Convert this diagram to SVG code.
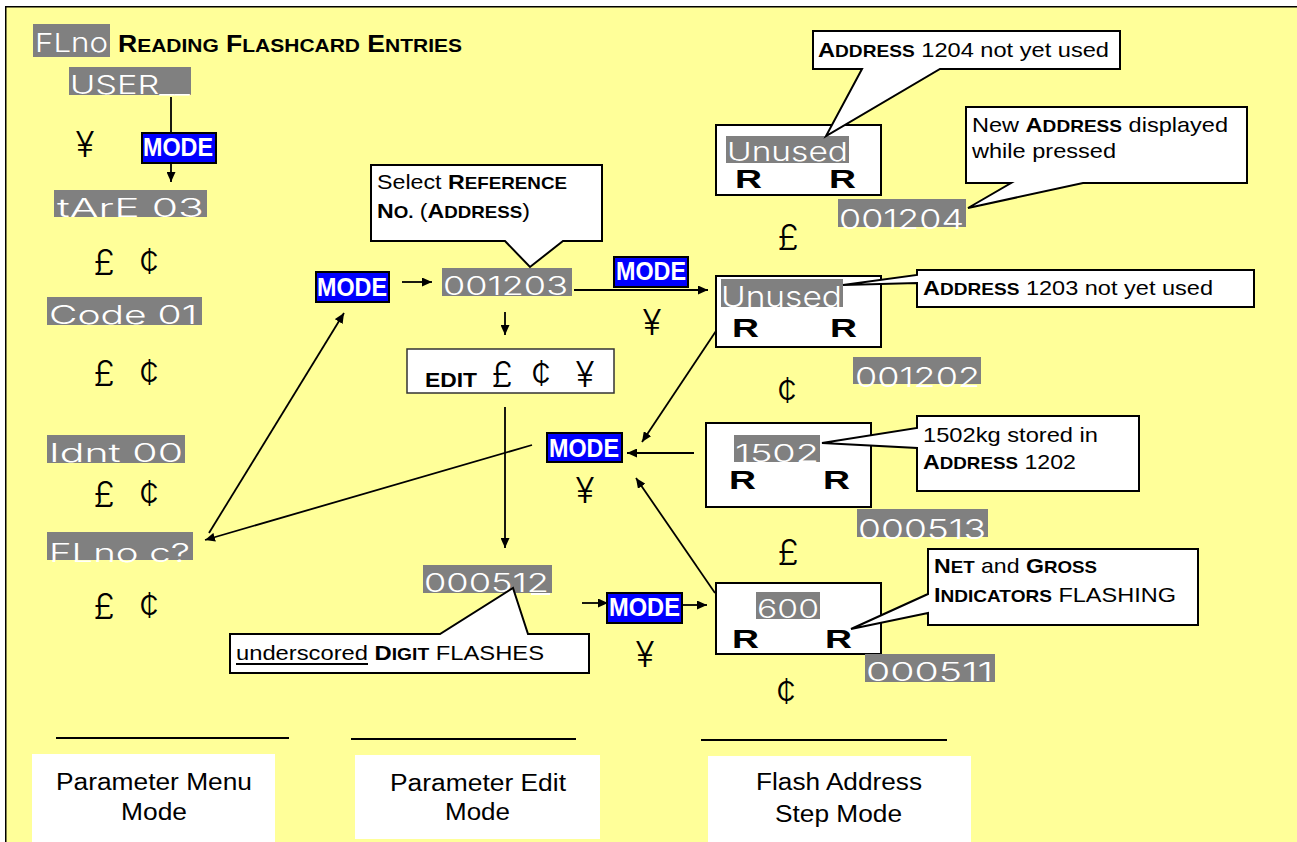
<svg xmlns="http://www.w3.org/2000/svg" width="1297" height="842" viewBox="0 0 1297 842">
<style>
.t{font-family:"Liberation Sans",Arial,sans-serif;fill:#000}
.b{font-weight:bold}
.disp{fill:#808080}
.dt{font-family:Inter,"DejaVu Sans",sans-serif;font-weight:300;fill:#fff}
.mode{fill:#0000ff;stroke:#000;stroke-width:2}
.mt{font-family:"Liberation Sans",Arial,sans-serif;font-weight:bold;fill:#fff;font-size:25px}
.sym{font-family:Inter,"DejaVu Sans",sans-serif;font-weight:300;font-size:35px;fill:#000;text-anchor:middle}
.call{fill:#fff;stroke:#000;stroke-width:2;stroke-linejoin:miter}
.box{fill:#fff;stroke:#000;stroke-width:2}
.rr{font-family:"Liberation Sans",Arial,sans-serif;font-weight:bold;font-size:25px;fill:#000}
.ln{stroke:#000;stroke-width:1.8;fill:none}
.lbl{fill:#fff}
</style>
<defs>
<marker id="ah" markerUnits="userSpaceOnUse" markerWidth="11" markerHeight="9" refX="10" refY="4.5" orient="auto">
<path d="M0,0 L10,4.5 L0,9 Z" fill="#000"/>
</marker>
</defs>
<rect x="0" y="0" width="1297" height="842" fill="#fff"/>
<rect x="5.75" y="6.75" width="1320" height="870" fill="#ffff99" stroke="#000" stroke-width="1.5"/>

<g id="title">
<rect class="disp" x="33" y="24" width="77" height="33"/>
<text class="dt" x="35" y="52" font-size="26" textLength="73" lengthAdjust="spacingAndGlyphs">FLno</text>
<text class="t b" x="118" y="52" font-size="24" textLength="344" lengthAdjust="spacingAndGlyphs">R<tspan font-size="19">EADING</tspan> F<tspan font-size="19">LASHCARD</tspan> E<tspan font-size="19">NTRIES</tspan></text>
</g>

<g id="connectors">
<line class="ln" x1="171" y1="97" x2="171" y2="133"/>
<line class="ln" x1="171" y1="163" x2="171" y2="182" marker-end="url(#ah)"/>
<line class="ln" x1="402" y1="282" x2="432" y2="282" marker-end="url(#ah)"/>
<line class="ln" x1="505" y1="312" x2="505" y2="335" marker-end="url(#ah)"/>
<line class="ln" x1="505" y1="407" x2="505" y2="548" marker-end="url(#ah)"/>
<line class="ln" x1="574" y1="290" x2="708" y2="290" marker-end="url(#ah)"/>
<line class="ln" x1="720" y1="325" x2="642" y2="442" marker-end="url(#ah)"/>
<line class="ln" x1="694" y1="453" x2="627" y2="453" marker-end="url(#ah)"/>
<line class="ln" x1="715" y1="593" x2="636" y2="478" marker-end="url(#ah)"/>
<line class="ln" x1="532" y1="445" x2="205" y2="540" marker-end="url(#ah)"/>
<line class="ln" x1="209" y1="533" x2="344" y2="313" marker-end="url(#ah)"/>
<line class="ln" x1="582" y1="603" x2="608" y2="603" marker-end="url(#ah)"/>
<line class="ln" x1="682" y1="605" x2="707" y2="605" marker-end="url(#ah)"/>
</g>

<g id="menu-user">
<rect class="disp" x="69" y="67" width="122" height="28"/>
<text class="dt" x="70" y="94" font-size="26" textLength="120" lengthAdjust="spacingAndGlyphs">USER__</text>
</g>
<g id="menu-tare">
<rect class="disp" x="54" y="190" width="153" height="27"/>
<text class="dt" x="57" y="217" font-size="25" textLength="147" lengthAdjust="spacingAndGlyphs">tArE 03</text>
</g>
<g id="menu-code">
<rect class="disp" x="47" y="297" width="155" height="28"/>
<text class="dt" x="49" y="324" font-size="25" textLength="148" lengthAdjust="spacingAndGlyphs">Code 01</text>
</g>
<g id="menu-idnt">
<rect class="disp" x="47" y="435" width="138" height="28"/>
<text class="dt" x="49" y="462" font-size="25" textLength="134" lengthAdjust="spacingAndGlyphs">Idnt 00</text>
</g>
<g id="menu-flno">
<rect class="disp" x="47" y="532" width="146" height="28"/>
<text class="dt" x="49" y="562" font-size="25" textLength="141" lengthAdjust="spacingAndGlyphs">FLno c?</text>
</g>

<g id="mode1"><rect class="mode" x="142" y="133" width="74" height="30"/><text class="mt" x="143" y="156" textLength="70" lengthAdjust="spacingAndGlyphs">MODE</text></g>
<g id="mode2"><rect class="mode" x="316" y="272" width="73" height="30"/><text class="mt" x="317" y="296" textLength="70" lengthAdjust="spacingAndGlyphs">MODE</text></g>
<g id="mode3"><rect class="mode" x="614" y="257" width="74" height="30"/><text class="mt" x="616" y="280" textLength="70" lengthAdjust="spacingAndGlyphs">MODE</text></g>
<g id="mode4"><rect class="mode" x="547" y="433" width="75" height="29"/><text class="mt" x="549" y="457" textLength="70" lengthAdjust="spacingAndGlyphs">MODE</text></g>
<g id="mode5"><rect class="mode" x="607" y="593" width="75" height="30"/><text class="mt" x="609" y="616" textLength="71" lengthAdjust="spacingAndGlyphs">MODE</text></g>

<g id="symbols">
<text class="sym" x="85" y="157" font-size="37">¥</text>
<text class="sym" x="104" y="275">£</text><text class="sym" x="149" y="274">¢</text>
<text class="sym" x="104" y="386">£</text><text class="sym" x="149" y="385">¢</text>
<text class="sym" x="104" y="507">£</text><text class="sym" x="149" y="506">¢</text>
<text class="sym" x="104" y="619">£</text><text class="sym" x="149" y="618">¢</text>
<text class="sym" x="652" y="335">¥</text>
<text class="sym" x="585" y="503">¥</text>
<text class="sym" x="645" y="667">¥</text>
<text class="sym" x="788" y="250">£</text>
<text class="sym" x="787" y="403">¢</text>
<text class="sym" x="788" y="565">£</text>
<text class="sym" x="786" y="704">¢</text>
</g>

<g id="addr-001203">
<rect class="disp" x="442" y="268" width="130" height="28"/>
<text class="dt" x="443" y="295" font-size="25" textLength="125" lengthAdjust="spacingAndGlyphs">001203</text>
</g>
<g id="edit-box">
<rect x="407" y="349" width="207" height="44" fill="#fff" stroke="#333" stroke-width="1.5"/>
<text class="t b" x="425" y="387" font-size="21" textLength="52" lengthAdjust="spacingAndGlyphs">EDIT</text>
<text class="sym" x="502" y="387" font-size="33">£</text>
<text class="sym" x="541" y="386" font-size="33">¢</text>
<text class="sym" x="585" y="387" font-size="33">¥</text>
</g>
<g id="addr-000512">
<rect class="disp" x="423" y="565" width="129" height="28"/>
<text class="dt" x="424" y="592" font-size="25" textLength="125" lengthAdjust="spacingAndGlyphs">000512</text>
<line x1="531" y1="594" x2="550" y2="594" stroke="#fff" stroke-width="2"/>
</g>

<g id="callout-select">
<path class="call" d="M371,165 H602 V241 H563 L530,267 L505,241 H371 Z"/>
<text class="t" x="377" y="189" font-size="21" textLength="190" lengthAdjust="spacingAndGlyphs">Select <tspan class="b">R<tspan font-size="17">EFERENCE</tspan></tspan></text>
<text class="t" x="377" y="218" font-size="21" textLength="153" lengthAdjust="spacingAndGlyphs"><tspan class="b">N<tspan font-size="17">O.</tspan></tspan> (<tspan class="b">A<tspan font-size="17">DDRESS</tspan></tspan>)</text>
</g>
<g id="callout-digit">
<path class="call" d="M230,634 H440 L513,588 L528,634 H589 V673 H230 Z"/>
<text class="t" x="236" y="660" font-size="21" textLength="308" lengthAdjust="spacingAndGlyphs">underscored <tspan class="b">D<tspan font-size="17">IGIT</tspan></tspan> FLASHES</text>
<line x1="236" y1="664" x2="368" y2="664" stroke="#000" stroke-width="1.8"/>
</g>

<g id="flash-1204">
<rect class="box" x="716" y="125" width="165" height="70"/>
<rect class="disp" x="726" y="136" width="123" height="27"/>
<text class="dt" x="727" y="161" font-size="26" textLength="121" lengthAdjust="spacingAndGlyphs">Unused</text>
<text class="rr" x="735" y="188" textLength="27" lengthAdjust="spacingAndGlyphs">R</text>
<text class="rr" x="829" y="188" textLength="27" lengthAdjust="spacingAndGlyphs">R</text>
</g>
<g id="callout-1204">
<path class="call" d="M813,31 H1120 V69 H940 L826,136 L862,69 H813 Z"/>
<text class="t" x="818" y="57" font-size="21" textLength="291" lengthAdjust="spacingAndGlyphs"><tspan class="b">A<tspan font-size="17">DDRESS</tspan></tspan> 1204 not yet used</text>
</g>
<g id="addr-001204">
<rect class="disp" x="838" y="199" width="128" height="28"/>
<text class="dt" x="839" y="229" font-size="27" textLength="125" lengthAdjust="spacingAndGlyphs">001204</text>
</g>
<g id="callout-new">
<path class="call" d="M966,107 H1247 V183 H1083 L968,208 L1011,183 H966 Z"/>
<text class="t" x="972" y="132" font-size="21" textLength="256" lengthAdjust="spacingAndGlyphs">New <tspan class="b">A<tspan font-size="17">DDRESS</tspan></tspan> displayed</text>
<text class="t" x="972" y="158" font-size="21" textLength="144" lengthAdjust="spacingAndGlyphs">while pressed</text>
</g>

<g id="flash-1203">
<rect class="box" x="716" y="276" width="165" height="71"/>
<rect class="disp" x="721" y="279" width="122" height="28"/>
<text class="dt" x="721" y="307" font-size="28" textLength="121" lengthAdjust="spacingAndGlyphs">Unused</text>
<text class="rr" x="732" y="337" textLength="27" lengthAdjust="spacingAndGlyphs">R</text>
<text class="rr" x="830" y="337" textLength="27" lengthAdjust="spacingAndGlyphs">R</text>
</g>
<g id="callout-1203">
<path class="call" d="M917,270 H1254 V307 H917 V283 L843,285 L917,275 Z"/>
<text class="t" x="923" y="295" font-size="21" textLength="290" lengthAdjust="spacingAndGlyphs"><tspan class="b">A<tspan font-size="17">DDRESS</tspan></tspan> 1203 not yet used</text>
</g>
<g id="addr-001202">
<rect class="disp" x="853" y="357" width="128" height="27"/>
<text class="dt" x="855" y="387" font-size="27" textLength="125" lengthAdjust="spacingAndGlyphs">001202</text>
</g>

<g id="flash-1502">
<rect class="box" x="706" y="423" width="165" height="84"/>
<rect class="disp" x="734" y="435" width="86" height="27"/>
<text class="dt" x="735" y="462" font-size="24" textLength="84" lengthAdjust="spacingAndGlyphs">1502</text>
<text class="rr" x="729" y="489" textLength="27" lengthAdjust="spacingAndGlyphs">R</text>
<text class="rr" x="823" y="489" textLength="27" lengthAdjust="spacingAndGlyphs">R</text>
</g>
<g id="callout-1502">
<path class="call" d="M917,416 H1139 V491 H917 V448 L822,443 L917,428 Z"/>
<text class="t" x="923" y="442" font-size="21" textLength="175" lengthAdjust="spacingAndGlyphs">1502kg stored in</text>
<text class="t" x="923" y="469" font-size="21" textLength="153" lengthAdjust="spacingAndGlyphs"><tspan class="b">A<tspan font-size="17">DDRESS</tspan></tspan> 1202</text>
</g>
<g id="addr-000513">
<rect class="disp" x="857" y="509" width="131" height="28"/>
<text class="dt" x="858" y="539" font-size="27" textLength="128" lengthAdjust="spacingAndGlyphs">000513</text>
</g>

<g id="flash-600">
<rect class="box" x="716" y="583" width="165" height="71"/>
<rect class="disp" x="756" y="592" width="64" height="27"/>
<text class="dt" x="757" y="618" font-size="25" textLength="62" lengthAdjust="spacingAndGlyphs">600</text>
<text class="rr" x="732" y="648" textLength="27" lengthAdjust="spacingAndGlyphs">R</text>
<text class="rr" x="825" y="648" textLength="27" lengthAdjust="spacingAndGlyphs">R</text>
</g>
<g id="callout-600">
<path class="call" d="M928,549 H1198 V625 H928 V613 L851,629 L928,594 Z"/>
<text class="t" x="934" y="573" font-size="21" textLength="163" lengthAdjust="spacingAndGlyphs"><tspan class="b">N<tspan font-size="17">ET</tspan></tspan> and <tspan class="b">G<tspan font-size="17">ROSS</tspan></tspan></text>
<text class="t" x="934" y="602" font-size="21" textLength="242" lengthAdjust="spacingAndGlyphs"><tspan class="b">I<tspan font-size="17">NDICATORS</tspan></tspan> FLASHING</text>
</g>
<g id="addr-000511">
<rect class="disp" x="865" y="654" width="130" height="28"/>
<text class="dt" x="866" y="681" font-size="25" textLength="127" lengthAdjust="spacingAndGlyphs">000511</text>
</g>

<g id="legend-menu">
<line x1="56" y1="738" x2="289" y2="738" stroke="#000" stroke-width="2"/>
<rect class="lbl" x="32" y="754" width="243" height="100"/>
<text class="t" x="56" y="790" font-size="23" textLength="196" lengthAdjust="spacingAndGlyphs">Parameter Menu</text>
<text class="t" x="121" y="820" font-size="23" textLength="66" lengthAdjust="spacingAndGlyphs">Mode</text>
</g>
<g id="legend-edit">
<line x1="351" y1="739" x2="576" y2="739" stroke="#000" stroke-width="2"/>
<rect class="lbl" x="355" y="755" width="245" height="84"/>
<text class="t" x="390" y="791" font-size="23" textLength="176" lengthAdjust="spacingAndGlyphs">Parameter Edit</text>
<text class="t" x="445" y="820" font-size="23" textLength="65" lengthAdjust="spacingAndGlyphs">Mode</text>
</g>
<g id="legend-flash">
<line x1="701" y1="740" x2="947" y2="740" stroke="#000" stroke-width="2"/>
<rect class="lbl" x="708" y="756" width="263" height="100"/>
<text class="t" x="756" y="790" font-size="23" textLength="166" lengthAdjust="spacingAndGlyphs">Flash Address</text>
<text class="t" x="775" y="822" font-size="23" textLength="127" lengthAdjust="spacingAndGlyphs">Step Mode</text>
</g>
</svg>
